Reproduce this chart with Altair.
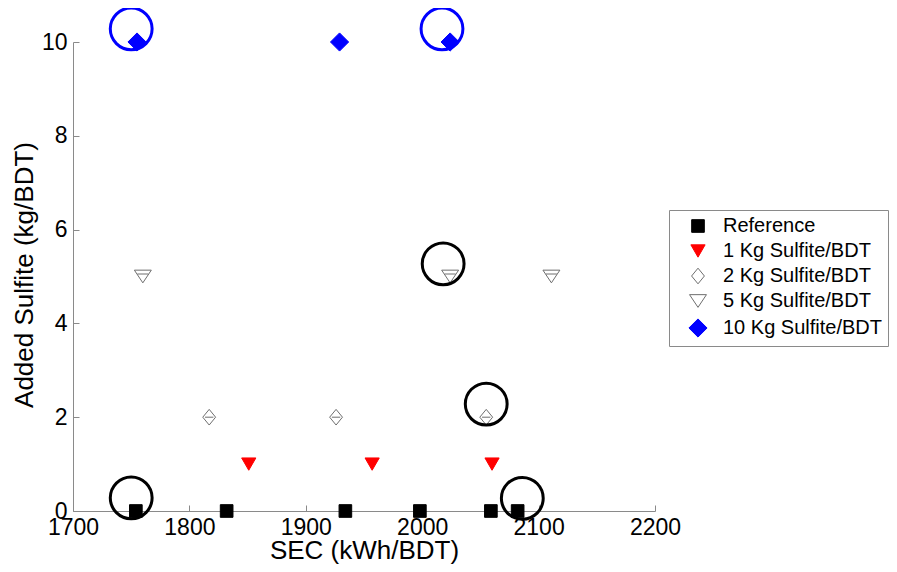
import altair as alt
import pandas as pd

# ---- data ----
series_names = ["Reference", "1 Kg Sulfite/BDT", "2 Kg Sulfite/BDT",
                "5 Kg Sulfite/BDT", "10 Kg Sulfite/BDT"]

ref_sec = [1754, 1832, 1934, 1998, 2059, 2082]
ref_sulfite = [0, 0, 0, 0, 0, 0]
kg1_sec = [1851, 1957, 2060]
kg1_sulfite = [1, 1, 1]
kg2_sec = [1817, 1926, 2055]
kg2_sulfite = [2, 2, 2]
kg5_sec = [1760, 2024, 2111]
kg5_sulfite = [5, 5, 5]
kg10_sec = [1755, 1929, 2024]
kg10_sulfite = [10, 10, 10]

# highlight circles drawn around some points
circle_sec = [1750, 2018, 2055, 2086, 1750, 2017]
circle_sulfite = [0.28, 5.27, 2.28, 0.27, 10.28, 10.28]
circle_group = ["black", "black", "black", "black", "blue", "blue"]

x_ticks = [1700, 1800, 1900, 2000, 2100, 2200]
y_ticks = [0, 2, 4, 6, 8, 10]

# ---- tables ----
rows = []
for name, xs, ys in zip(series_names,
                        [ref_sec, kg1_sec, kg2_sec, kg5_sec, kg10_sec],
                        [ref_sulfite, kg1_sulfite, kg2_sulfite, kg5_sulfite, kg10_sulfite]):
    for x, y in zip(xs, ys):
        rows.append({"series": name, "sec": x, "sulfite": y})
df = pd.DataFrame(rows)
circles = pd.DataFrame({"sec": circle_sec, "sulfite": circle_sulfite, "grp": circle_group})

FONT = "Liberation Sans"
GRAY = "#8a8a8a"
OPEN = "#6e6e6e"

diamond_open = "M0,-1L0.82,0L0,1L-0.82,0Z"
tri_open = "M-1,-0.75L1,-0.75L0,0.75Z"

xscale = alt.Scale(domain=[1700, 2200], nice=False, zero=False)
yscale = alt.Scale(domain=[0, 10], nice=False, zero=False)

leg = alt.Legend(title=None, orient="none", legendX=596, legendY=168,
                 strokeColor=GRAY, fillColor="white", padding=6,
                 labelFont=FONT, labelFontSize=20, labelColor="black",
                 labelLimit=400, symbolOffset=13, labelOffset=15, rowPadding=5,
                 symbolStrokeWidth=1)

x_main = alt.Axis(values=x_ticks, format="d", labelFlush=False, ticks=False,
                  tickSize=0, labelPadding=5,
                  grid=False, domainColor=GRAY, title="SEC (kWh/BDT)",
                  titleFontSize=26,
                  titleX=291, titleY=47, titleBaseline="alphabetic")
y_main = alt.Axis(values=y_ticks, format="d", labelFlush=False, ticks=False,
                  tickSize=0, labelPadding=6,
                  grid=False, domainColor=GRAY, title="Added Sulfite  (kg/BDT)",
                  titleFontSize=26,
                  titleX=-49, titleY=232.5, titleBaseline="middle",
                  titleAlign="center", titleAngle=270)

x_tick = alt.Axis(values=x_ticks, orient="bottom", offset=-6, tickSize=6,
                  labels=False, domain=False, grid=False, title=None,
                  tickColor=GRAY)
y_tick = alt.Axis(values=y_ticks, orient="left", offset=-6, tickSize=6,
                  labels=False, domain=False, grid=False, title=None,
                  tickColor=GRAY)

points = alt.Chart(df).mark_point(opacity=1, strokeWidth=1).encode(
    x=alt.X("sec:Q", scale=xscale, axis=x_main),
    y=alt.Y("sulfite:Q", scale=yscale, axis=y_main),
    shape=alt.Shape("series:N", scale=alt.Scale(
        domain=series_names,
        range=["square", "triangle-down", diamond_open, tri_open, "diamond"]), legend=leg),
    fill=alt.Fill("series:N", scale=alt.Scale(
        domain=series_names,
        range=["black", "#ff0000", "transparent", "transparent", "#0000ff"]), legend=leg),
    stroke=alt.Stroke("series:N", scale=alt.Scale(
        domain=series_names,
        range=["black", "#ff0000", OPEN, OPEN, "#0000ff"]), legend=leg),
    size=alt.Size("series:N", scale=alt.Scale(
        domain=series_names, range=[160, 330, 400, 400, 256]), legend=leg),
)

dash2 = alt.Chart(df).transform_filter(
    alt.datum.series == series_names[2]
).mark_point(shape="M-0.42,0L0.42,0", size=400, stroke=OPEN, strokeWidth=1, opacity=1).encode(
    x=alt.X("sec:Q", scale=xscale, axis=None),
    y=alt.Y("sulfite:Q", scale=yscale, axis=None),
)
dash5 = alt.Chart(df).transform_filter(
    alt.datum.series == series_names[3]
).mark_point(shape="M-0.55,-0.25L0.55,-0.25", size=400, stroke=OPEN, strokeWidth=1, opacity=1).encode(
    x=alt.X("sec:Q", scale=xscale, axis=None),
    y=alt.Y("sulfite:Q", scale=yscale, axis=None),
)

rings = alt.Chart(circles).mark_point(shape="circle", filled=False, size=1750,
                                      strokeWidth=3, opacity=1).encode(
    x=alt.X("sec:Q", scale=xscale, axis=x_tick),
    y=alt.Y("sulfite:Q", scale=yscale, axis=y_tick),
    color=alt.Color("grp:N", scale=alt.Scale(domain=["black", "blue"],
                                             range=["black", "#0000ff"]), legend=None),
)

chart = alt.layer(points, dash2, dash5, rings).resolve_axis(
    x="independent", y="independent"
).properties(
    width=582, height=469,
    autosize=alt.AutoSizeParams(type="none"),
    padding={"left": 65, "top": 34, "right": 234, "bottom": 53},
    background="white",
).configure_view(stroke=None).configure_axis(
    labelFont=FONT, labelFontSize=23, labelColor="black",
    titleFont=FONT, titleFontSize=25, titleFontWeight="normal", titleColor="black",
)

chart.save("out.html", embed_options={"renderer": "svg", "actions": False})
